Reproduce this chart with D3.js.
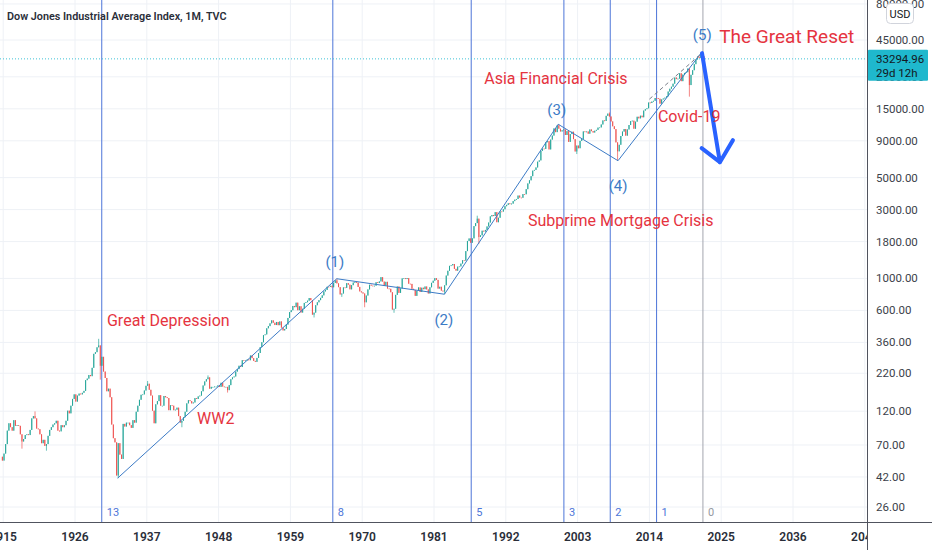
<!DOCTYPE html>
<html>
<head>
<meta charset="utf-8">
<script src="https://cdn.jsdelivr.net/npm/d3@7"></script>
<style>
  body { margin: 0; background: #fff; }
  svg { display: block; font-family: Roboto, "Noto Sans", sans-serif; }
</style>
</head>
<body>
<svg id="chart" width="932" height="550"></svg>
<script>
// Quarterly closes of the Dow, starting with Q4 1914
const closes1910s = [54.6,
  61, 71, 88, 99,   93, 88, 104, 95,   96, 95, 83, 74,   77, 82, 83, 82,   89, 107, 111, 107];
const closes1920s = [91, 90, 83, 72,   76, 69, 71, 81,   89, 93, 97, 99,   103, 88, 87, 96,
  93, 96, 103, 121,   116, 131, 146, 157,   140, 154, 159, 157,   161, 166, 197, 202,
  214, 210, 240, 300,   308, 333, 343, 248];
const closes1930s = [286, 226, 204, 165,   172, 150, 97, 78,   73, 43, 72, 60,   56, 98, 94, 100,
  100, 96, 92, 104,   100, 119, 131, 144,   156, 157, 167, 180,   186, 169, 154, 121,
  99, 134, 141, 155,   131, 131, 153, 150];
const closes1940s = [148, 122, 132, 131,   122, 123, 127, 111,   100, 103, 109, 119,   136, 143, 141, 136,
  138, 148, 146, 152,   154, 165, 181, 193,   200, 206, 172, 177,   177, 178, 178, 181,
  177, 189, 178, 177,   177, 168, 182, 200];
const closes1950s = [206, 209, 226, 235,   248, 243, 271, 269,   270, 274, 271, 292,   280, 268, 264, 281,
  304, 334, 361, 404,   409, 451, 467, 488,   512, 493, 475, 499,   474, 503, 456, 436,
  446, 478, 532, 584,   602, 644, 632, 679];
const closes1960s = [602, 641, 580, 616,   676, 684, 701, 731,   707, 561, 579, 652,   683, 707, 733, 763,
  813, 832, 875, 874,   889, 868, 931, 969,   924, 870, 774, 786,   866, 860, 927, 905,
  840, 898, 936, 944,   936, 873, 813, 800];
const closes1970s = [786, 683, 761, 839,   904, 891, 887, 890,   941, 929, 953, 1020,   951, 891, 947, 851,
  847, 802, 608, 616,   769, 879, 794, 852,   1000, 1003, 990, 1005,   919, 916, 847, 831,
  757, 819, 866, 805,   862, 842, 879, 839];
const closes1980s = [786, 868, 932, 964,   1004, 977, 850, 875,   823, 812, 896, 1047,   1130, 1222, 1233, 1259,
  1165, 1132, 1207, 1212,   1267, 1336, 1329, 1547,   1819, 1893, 1768, 1896,   2305, 2419, 2596, 1939,
  1989, 2142, 2113, 2169,   2293, 2440, 2693, 2753];
const closes1990s = [2707, 2881, 2453, 2634,   2914, 2907, 3017, 3169,   3236, 3319, 3272, 3301,
  3436, 3516, 3555, 3754,   3636, 3625, 3843, 3834,   4158, 4556, 4789, 5117,
  5587, 5655, 5882, 6448,   6584, 7673, 7945, 7908,   8800, 8952, 7843, 9181,   9786, 10971, 10337, 11497];
const closes2000s = [10922, 10448, 10651, 10787,   9879, 10502, 8848, 10022,   10404, 9243, 7592, 8342,
  7992, 8985, 9275, 10454,   10358, 10435, 10080, 10783,   10504, 10275, 10569, 10718,
  11109, 11150, 11679, 12463,   12354, 13409, 13896, 13265,   12263, 11350, 10851, 8776,   7609, 8447, 9712, 10428];
const closes2010s = [10857, 9774, 10788, 11578,   12320, 12414, 10913, 12218,   13212, 12880, 13437, 13104,
  14579, 14910, 15130, 16577,   16458, 16827, 17043, 17823,   17776, 17620, 16285, 17425,
  17685, 17930, 18308, 19763,   20663, 21350, 22405, 24719,   24103, 24271, 26458, 23327,   25929, 26600, 26917, 28538];
const closes2020s = [21917, 25813, 27782, 30606,   32982, 34503, 33844, 36338,   34678, 33294.96];
const firstQuarter = 1914.75;
const firstOpen = 58;
const lastPrice = 33294.96;

// intra-quarter highs and lows (wicks)
const extremeYears  = [1917.9, 1919.85, 1921.6, 1929.67, 1929.87, 1932.53, 1937.2, 1938.25, 1942.3, 1946.4,
  1949.45, 1962.5, 1966.1, 1966.8, 1970.4, 1974.95, 1982.6, 1987.65, 1987.8, 2000.03, 2002.78, 2007.78,
  2009.19, 2020.22, 2022.01];
const extremeValues = [66, 119.6, 63.9, 381.2, 198.7, 41.2, 194.4, 98.9, 92.9, 212.5,
  161.6, 535.8, 995.2, 744.3, 631.2, 577.6, 776.9, 2722, 1739, 11723, 7286, 14165,
  6547, 18214, 36952];

// Elliott wave count
const waveYears  = [1932.53, 1966.1, 1982.6, 2000.03, 2009.19, 2022.01];
const waveValues = [41.2, 995, 777, 11723, 6547, 36952];
const waveLabels = ['(1)', '(2)', '(3)', '(4)', '(5)'];
const waveLabelYears  = [1965.8, 1982.5, 1999.8, 2009.2, 2022.1];
const waveLabelValues = [1199, 475, 13580, 4036, 45000];

// dashed trend line near the top
const dashYears  = [2014.0, 2021.9];
const dashValues = [17500, 36000];

// projected drop arrow
const arrowYears  = [2022.06, 2024.8];
const arrowValues = [36500, 6400];
const headYears   = [2022.0, 2024.8, 2026.8];
const headValues  = [8000, 6400, 9100];

// Fibonacci time zones
const fibYears  = [1930.1, 1965.5, 1986.7, 2000.9, 2008.0, 2015.1, 2022.2];
const fibLabels = ['13', '8', '5', '3', '2', '1', '0'];

// text notes
const noteTexts  = ['Great Depression', 'WW2', 'Asia Financial Crisis', 'Subprime Mortgage Crisis', 'Covid-19', 'The Great Reset'];
const noteYears  = [1930.9, 1944.7, 1988.7, 1995.4, 2015.3, 2024.7];
const noteValues = [468, 97.7, 22300, 2307, 12130, 42900];

// axes
const xTickYears = [1915, 1926, 1937, 1948, 1959, 1970, 1981, 1992, 2003, 2014, 2025, 2036, 2047];
const yTickValues = [80000, 45000, 25000, 15000, 9000, 5000, 3000, 1800, 1000, 600, 360, 220, 120, 70, 42, 26];

const svg = d3.select('#chart');
const plotRight = 867, plotBottom = 522;

const x = d3.scaleLinear().domain([1926, 2036]).range([75, 793]);
const y = d3.scaleLog().domain([26, 45000]).range([507, 40]);

svg.append('defs').append('clipPath').attr('id', 'plot')
  .append('rect').attr('x', 0).attr('y', 0).attr('width', plotRight).attr('height', plotBottom);
svg.select('defs').append('clipPath').attr('id', 'xlab')
  .append('rect').attr('x', 0).attr('y', plotBottom).attr('width', plotRight).attr('height', 550 - plotBottom);

const plot = svg.append('g').attr('clip-path', 'url(#plot)');

// grid
plot.selectAll('.vgrid').data(xTickYears).join('line')
  .attr('x1', d => x(d)).attr('x2', d => x(d)).attr('y1', 0).attr('y2', plotBottom)
  .attr('stroke', '#eef1f6').attr('stroke-width', 1);
plot.selectAll('.hgrid').data(yTickValues).join('line')
  .attr('x1', 0).attr('x2', plotRight).attr('y1', d => y(d)).attr('y2', d => y(d))
  .attr('stroke', '#eef1f6').attr('stroke-width', 1);

// fib time zones
plot.selectAll('.fib').data(fibYears).join('line')
  .attr('x1', d => x(d)).attr('x2', d => x(d)).attr('y1', 0).attr('y2', plotBottom)
  .attr('stroke', (d, i) => fibLabels[i] === '0' ? '#a3a6ae' : '#4d75d8').attr('stroke-width', 1);
plot.selectAll('.fibtxt').data(fibYears).join('text')
  .attr('x', d => x(d) + 5).attr('y', 516)
  .attr('font-size', 11)
  .attr('fill', (d, i) => fibLabels[i] === '0' ? '#9598a1' : '#4d75d8')
  .text((d, i) => fibLabels[i]);

// current price line
plot.append('line')
  .attr('x1', 0).attr('x2', plotRight).attr('y1', y(lastPrice)).attr('y2', y(lastPrice))
  .attr('stroke', '#3fc3d6').attr('stroke-width', 1).attr('stroke-dasharray', '1,2');

// candles
const closes = [].concat(closes1910s, closes1920s, closes1930s, closes1940s, closes1950s,
  closes1960s, closes1970s, closes1980s, closes1990s, closes2000s, closes2010s, closes2020s);
const extremesByQuarter = new Map();
extremeYears.forEach((yr, i) => {
  const q = Math.floor((yr - firstQuarter) / 0.25);
  if (!extremesByQuarter.has(q)) extremesByQuarter.set(q, []);
  extremesByQuarter.get(q).push(extremeValues[i]);
});
const candles = closes.map((c, i) => {
  const o = i === 0 ? firstOpen : closes[i - 1];
  let hi = Math.max(o, c), lo = Math.min(o, c);
  (extremesByQuarter.get(i) || []).forEach(v => { hi = Math.max(hi, v); lo = Math.min(lo, v); });
  return { t: firstQuarter + i * 0.25 + 0.125, o, c, hi, lo, up: c >= o };
});
const up = '#26a69a', down = '#ef5350';
const cg = plot.append('g');
cg.selectAll('line').data(candles).join('line')
  .attr('x1', d => x(d.t)).attr('x2', d => x(d.t))
  .attr('y1', d => y(d.hi)).attr('y2', d => y(d.lo))
  .attr('stroke', d => d.up ? up : down).attr('stroke-width', 0.7);
cg.selectAll('rect').data(candles).join('rect')
  .attr('x', d => x(d.t) - 0.5).attr('width', 1)
  .attr('y', d => y(Math.max(d.o, d.c)))
  .attr('height', d => Math.max(0.8, y(Math.min(d.o, d.c)) - y(Math.max(d.o, d.c))))
  .attr('fill', d => d.up ? up : down);

// wave lines
const line = d3.line().x(d => x(d[0])).y(d => y(d[1]));
plot.append('path')
  .datum(waveYears.map((d, i) => [d, waveValues[i]]))
  .attr('d', line).attr('fill', 'none').attr('stroke', '#3c7bc6').attr('stroke-width', 1);
plot.append('path')
  .datum(dashYears.map((d, i) => [d, dashValues[i]]))
  .attr('d', line).attr('fill', 'none').attr('stroke', '#7b7f8a').attr('stroke-width', 1)
  .attr('stroke-dasharray', '4,3');
plot.selectAll('.wlab').data(waveLabels).join('text')
  .attr('x', (d, i) => x(waveLabelYears[i])).attr('y', (d, i) => y(waveLabelValues[i]))
  .attr('text-anchor', 'middle').attr('font-size', 15).attr('fill', '#3c7bc6')
  .text(d => d);

// arrow
plot.append('path')
  .datum(arrowYears.map((d, i) => [d, arrowValues[i]]))
  .attr('d', line).attr('fill', 'none').attr('stroke', '#2962ff').attr('stroke-width', 4)
  .attr('stroke-linecap', 'round');
plot.append('path')
  .datum(headYears.map((d, i) => [d, headValues[i]]))
  .attr('d', line).attr('fill', 'none').attr('stroke', '#2962ff').attr('stroke-width', 4)
  .attr('stroke-linecap', 'round').attr('stroke-linejoin', 'round');

// notes
plot.selectAll('.note').data(noteTexts).join('text')
  .attr('x', (d, i) => x(noteYears[i])).attr('y', (d, i) => y(noteValues[i]))
  .attr('font-size', d => d === 'The Great Reset' ? 19 : 16)
  .attr('fill', '#e5343f')
  .text(d => d);

// title
svg.append('text').attr('x', 7).attr('y', 20)
  .attr('font-size', 10.8).attr('font-weight', 600).attr('fill', '#2a2e39')
  .text('Dow Jones Industrial Average Index, 1M, TVC');

// axis frame
svg.append('line').attr('x1', 0).attr('x2', 932).attr('y1', plotBottom + 0.5).attr('y2', plotBottom + 0.5)
  .attr('stroke', '#50535e').attr('stroke-width', 1);
svg.append('line').attr('x1', plotRight + 0.5).attr('x2', plotRight + 0.5).attr('y1', 0).attr('y2', 550)
  .attr('stroke', '#50535e').attr('stroke-width', 1);

// x labels
svg.append('g').attr('clip-path', 'url(#xlab)')
  .selectAll('text').data(xTickYears).join('text')
  .attr('x', d => x(d)).attr('y', 541).attr('text-anchor', 'middle')
  .attr('font-size', 12).attr('font-weight', 600).attr('fill', '#2a2e39')
  .text(d => d);

// y labels (hidden where the price label sits)
svg.selectAll('.ylab').data(yTickValues.filter(v => Math.abs(y(v) - y(lastPrice)) > 16)).join('text')
  .attr('x', 876).attr('y', d => y(d)).attr('dy', '0.35em')
  .attr('font-size', 11.5).attr('fill', '#3b3f4a')
  .text(d => d.toFixed(2));

// price label
const py = y(lastPrice);
svg.append('rect').attr('x', plotRight + 1).attr('y', py - 9).attr('width', 60).attr('height', 31)
  .attr('fill', '#1fb8cd').attr('rx', 1);
svg.append('text').attr('x', 876).attr('y', py + 4).attr('font-size', 11.5).attr('fill', '#131722')
  .text(lastPrice.toFixed(2));
svg.append('text').attr('x', 876).attr('y', py + 18).attr('font-size', 11.5).attr('fill', '#131722')
  .text('29d 12h');

// currency badge
svg.append('rect').attr('x', 886.5).attr('y', 3.5).attr('width', 27).attr('height', 20).attr('rx', 4)
  .attr('fill', '#fff').attr('stroke', '#d1d4dc');
svg.append('text').attr('x', 900).attr('y', 17.5).attr('text-anchor', 'middle')
  .attr('font-size', 11).attr('fill', '#131722').text('USD');
</script>
</body>
</html>
